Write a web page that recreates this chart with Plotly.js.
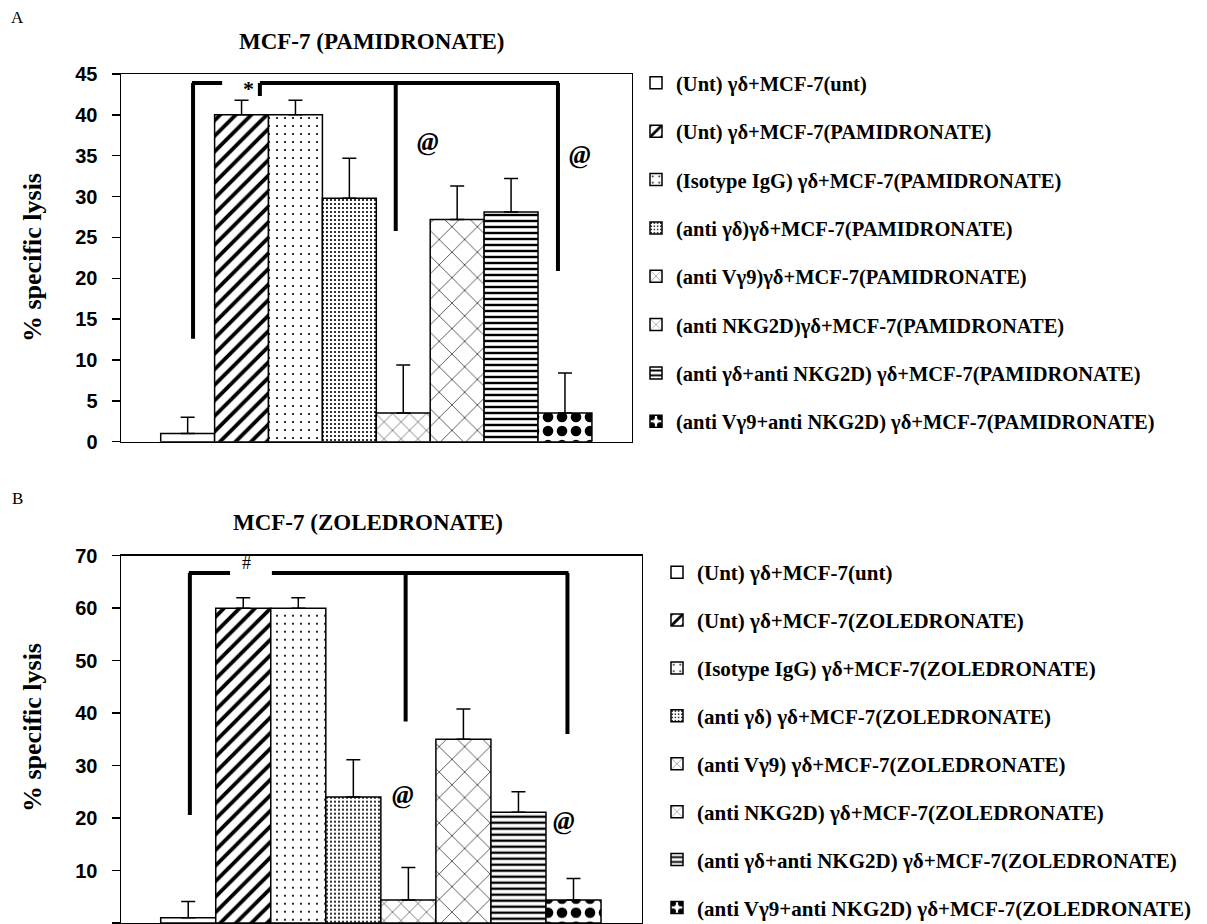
<!DOCTYPE html>
<html>
<head>
<meta charset="utf-8">
<script src="https://cdn.plot.ly/plotly-3.0.1.min.js"></script>
<style>html,body{margin:0;padding:0;background:#fff;}#chart{width:1207px;height:924px;}</style>
</head>
<body>
<div id="chart"></div>
<script>
// ---------- data ----------
const groups = ['Unt/unt', 'Unt', 'Isotype IgG', 'anti γδ', 'anti Vγ9', 'anti NKG2D', 'anti γδ+anti NKG2D', 'anti Vγ9+anti NKG2D'];

const legendA = [
  '(Unt) γδ+MCF-7(unt)',
  '(Unt) γδ+MCF-7(PAMIDRONATE)',
  '(Isotype IgG) γδ+MCF-7(PAMIDRONATE)',
  '(anti γδ)γδ+MCF-7(PAMIDRONATE)',
  '(anti Vγ9)γδ+MCF-7(PAMIDRONATE)',
  '(anti NKG2D)γδ+MCF-7(PAMIDRONATE)',
  '(anti γδ+anti NKG2D) γδ+MCF-7(PAMIDRONATE)',
  '(anti Vγ9+anti NKG2D) γδ+MCF-7(PAMIDRONATE)'
];
const legendB = [
  '(Unt) γδ+MCF-7(unt)',
  '(Unt) γδ+MCF-7(ZOLEDRONATE)',
  '(Isotype IgG) γδ+MCF-7(ZOLEDRONATE)',
  '(anti γδ) γδ+MCF-7(ZOLEDRONATE)',
  '(anti Vγ9) γδ+MCF-7(ZOLEDRONATE)',
  '(anti NKG2D) γδ+MCF-7(ZOLEDRONATE)',
  '(anti γδ+anti NKG2D) γδ+MCF-7(ZOLEDRONATE)',
  '(anti Vγ9+anti NKG2D) γδ+MCF-7(ZOLEDRONATE)'
];

const lysisA = [1.0, 40.0, 40.0, 29.8, 3.5, 27.2, 28.1, 3.5];
const errA   = [2.0, 1.8, 1.8, 4.9, 5.9, 4.1, 4.1, 4.9];
const lysisB = [1.0, 60.0, 60.0, 24.0, 4.4, 35.0, 21.1, 4.4];
const errB   = [3.1, 2.0, 2.0, 7.1, 6.2, 5.8, 3.9, 4.1];

const titleA = 'MCF-7 (PAMIDRONATE)';
const titleB = 'MCF-7 (ZOLEDRONATE)';
const yTitle = '% specific lysis';

// ---------- styles ----------
const patterns = [
  {shape: ''},
  {shape: '/', size: 11, solidity: 0.35},
  {shape: '.', size: 8, solidity: 0.06},
  {shape: '.', size: 4, solidity: 0.22},
  {shape: 'x', size: 12, solidity: 0.08},
  {shape: 'x', size: 18, solidity: 0.07},
  {shape: '-', size: 6, solidity: 0.4},
  {shape: '.', size: 14, solidity: 0.45}
];

const W = 1207, H = 924;
const px = v => v / W;
const py = v => 1 - v / H;

const traces = [];
function addSet(vals, errs, names, xa, ya, leg, gp) {
  vals.forEach((v, i) => {
    const p = Object.assign({fgcolor: '#000', bgcolor: '#fff', fillmode: 'replace'}, patterns[i]);
    traces.push({
      type: 'bar',
      x: [groups[i]],
      y: [v],
      name: names[i],
      xaxis: xa, yaxis: ya,
      legend: leg,
      legendgroup: gp + i,
      marker: {color: '#fff', line: {color: '#000', width: 1.5}, pattern: p},
      error_y: {type: 'data', symmetric: false, array: [errs[i]], arrayminus: [0], color: '#000', thickness: 1.5, width: 7},
      hoverinfo: 'skip'
    });
  });
}
addSet(lysisA, errA, legendA, 'x', 'y', 'legend', 'a');
addSet(lysisB, errB, legendB, 'x2', 'y2', 'legend2', 'b');

const tickFont = {family: 'Liberation Sans, Arial, sans-serif', size: 20, color: '#000', weight: 'bold'};
const serifBold = 'Liberation Serif, Times New Roman, serif';

function yaxis(dom, range, dtick, anchor) {
  return {
    domain: dom, range: range, dtick: dtick, tick0: 0, anchor: anchor,
    showgrid: false, zeroline: false,
    showline: true, linecolor: '#000', linewidth: 1.5, mirror: true,
    ticks: 'outside', ticklen: 8, tickwidth: 1.5, tickcolor: '#000',
    tickfont: tickFont, ticklabelstandoff: 10, fixedrange: true
  };
}
function xaxis(dom, range, anchor) {
  return {
    domain: dom, range: range, type: 'category', categoryorder: 'array', categoryarray: groups,
    showgrid: false, zeroline: false, showticklabels: false, ticks: '',
    showline: true, linecolor: '#000', linewidth: 1.5, mirror: true, anchor: anchor, fixedrange: true
  };
}

function seg(xr, yr, x0, y0, x1, y1) {
  return {type: 'line', xref: xr, yref: yr, x0: x0, y0: y0, x1: x1, y1: y1, line: {color: '#000', width: 4}};
}
const shapes = [
  // panel A brackets
  seg('x', 'y', 0.10, 12.6, 0.10, 43.9),
  seg('x', 'y', 0.08, 43.9, 0.64, 43.9),
  seg('x', 'y', 1.34, 43.9, 6.89, 43.9),
  seg('x', 'y', 1.34, 43.9, 1.34, 42.3),
  seg('x', 'y', 3.86, 43.9, 3.86, 25.8),
  seg('x', 'y', 6.87, 43.9, 6.87, 20.9),
  // panel B brackets
  seg('x2', 'y2', 0.03, 20.6, 0.03, 66.7),
  seg('x2', 'y2', 0.01, 66.7, 0.76, 66.7),
  seg('x2', 'y2', 1.52, 66.7, 6.91, 66.7),
  seg('x2', 'y2', 3.95, 66.7, 3.95, 38.4),
  seg('x2', 'y2', 6.89, 66.7, 6.89, 36.0)
];

function mark(txt, xr, yr, x, y, size, extra) {
  return Object.assign({text: txt, xref: xr, yref: yr, x: x, y: y, showarrow: false,
    xanchor: 'center', yanchor: 'middle',
    font: {family: serifBold, size: size, color: '#000', weight: 'bold'}}, extra || {});
}
function ptext(txt, x, y, size, bold, extra) {
  return Object.assign({text: txt, xref: 'paper', yref: 'paper', x: px(x), y: py(y), showarrow: false,
    xanchor: 'center', yanchor: 'middle',
    font: {family: serifBold, size: size, color: '#000', weight: bold ? 'bold' : 'normal'}}, extra || {});
}
const annotations = [
  mark('*', 'x', 'y', 1.12, 43.2, 22),
  mark('<i>@</i>', 'x', 'y', 4.46, 36.7, 26),
  mark('<i>@</i>', 'x', 'y', 7.28, 35.1, 26),
  mark('#', 'x2', 'y2', 1.06, 68.6, 18, {font: {family: serifBold, size: 18, color: '#000'}}),
  mark('<i>@</i>', 'x2', 'y2', 3.90, 24.5, 26),
  mark('<i>@</i>', 'x2', 'y2', 6.83, 19.5, 26),
  // titles
  ptext(titleA, 372, 42, 23, true),
  ptext(titleB, 368, 522, 23, true),
  ptext(yTitle, 32, 258, 26, true, {textangle: -90}),
  ptext(yTitle, 32, 728, 26, true, {textangle: -90}),
  ptext('A', 17, 18, 17, false),
  ptext('B', 17, 498, 17, false)
];

const legFontA = {family: serifBold, size: 20.5, color: '#000', weight: 'bold'};
const legFontB = {family: serifBold, size: 21, color: '#000', weight: 'bold'};
const layout = {
  width: W, height: H,
  margin: {l: 0, r: 0, t: 0, b: 0, autoexpand: false},
  paper_bgcolor: '#fff', plot_bgcolor: '#fff',
  barmode: 'overlay', bargap: 0,
  showlegend: true,
  xaxis: xaxis([px(121), px(631.7)], [-1.2366, 8.238], 'y'),
  yaxis: yaxis([1 - 441.7 / H, 1 - 74 / H], [0, 45], 5, 'x'),
  xaxis2: xaxis([px(121), px(641.7)], [-1.2213, 8.239], 'y2'),
  yaxis2: yaxis([1 - 923 / H, 1 - 555.7 / H], [0, 70], 10, 'x2'),
  legend: {xref: 'container', yref: 'container', x: px(636), y: py(63), xanchor: 'left', yanchor: 'top', font: legFontA,
           tracegroupgap: 18.7, itemwidth: 30, bgcolor: 'rgba(0,0,0,0)', traceorder: 'grouped'},
  legend2: {xref: 'container', yref: 'container', x: px(657), y: py(552), xanchor: 'left', yanchor: 'top', font: legFontB,
            tracegroupgap: 17.6, itemwidth: 30, bgcolor: 'rgba(0,0,0,0)', traceorder: 'grouped'},
  shapes: shapes,
  annotations: annotations
};

Plotly.newPlot('chart', traces, layout, {displayModeBar: false, staticPlot: true});
</script>
</body>
</html>
